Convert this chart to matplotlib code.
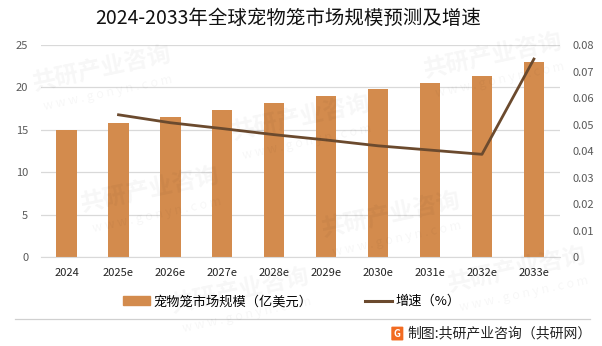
import numpy as np
import matplotlib.pyplot as plt
from matplotlib.patches import Patch, FancyBboxPatch
from matplotlib.lines import Line2D

plt.rcParams['font.family'] = ['Noto Sans CJK SC', 'DejaVu Sans']

# data
years = ["2024", "2025e", "2026e", "2027e", "2028e", "2029e", "2030e", "2031e", "2032e", "2033e"]
market_size = [15.0, 15.8, 16.5, 17.3, 18.15, 19.0, 19.8, 20.5, 21.4, 23.0]
growth_years = years[1:]
growth = [0.0537, 0.0507, 0.0485, 0.0462, 0.0442, 0.0420, 0.0404, 0.0388, 0.0747]

bar_color = "#D38B4D"
line_color = "#6B4A2E"
tick_color = "#595959"

fig = plt.figure(figsize=(6.02, 3.46), dpi=100)
ax = fig.add_axes([0.0675, 0.2564, 0.8625, 0.6136])

x = np.arange(len(years))
ax.bar(x, market_size, width=0.39, color=bar_color, zorder=2)
ax.set_xlim(-0.5, len(years) - 0.5)
ax.set_ylim(0, 25)
ax.set_yticks([0, 5, 10, 15, 20, 25])
ax.set_xticks(x)
ax.set_xticklabels(years)
ax.grid(axis="y", color="#D9D9D9", linewidth=0.9, zorder=0)
for s in ["top", "left", "right"]:
    ax.spines[s].set_visible(False)
ax.spines["bottom"].set_color("#D9D9D9")
ax.tick_params(axis="both", length=0, labelsize=8, colors=tick_color, pad=9)
ax.tick_params(axis="x", labelcolor="#222222", pad=8)

ax2 = ax.twinx()
gx = [years.index(y) for y in growth_years]
ax2.plot(gx, growth, color=line_color, linewidth=2.0, zorder=3)
ax2.set_ylim(0, 0.08)
ax2.set_yticks(np.arange(0, 0.081, 0.01))
ax2.set_yticklabels(["0"] + ["%.2f" % v for v in np.arange(0.01, 0.081, 0.01)])
for s in ax2.spines.values():
    s.set_visible(False)
ax2.tick_params(axis="y", length=0, labelsize=8, colors=tick_color, pad=9)

fig.text(0.478, 0.948, "2024-2033年全球宠物笼市场规模预测及增速", ha="center", va="center",
         fontsize=14, color="#111111")

handles = [Patch(color=bar_color), Line2D([0], [0], color=line_color, linewidth=2.2)]
labels = ["宠物笼市场规模（亿美元）", "增速（%）"]
fig.legend(handles, labels, loc="center", bbox_to_anchor=(0.485, 0.128), ncol=2,
           frameon=False, fontsize=9.5, handlelength=2.0, handleheight=0.6,
           columnspacing=4.0, handletextpad=0.3)

# separator line and source
fig.add_artist(Line2D([0.025, 0.98], [0.077, 0.077], color="#D0D0D0", linewidth=0.9))
fig.add_artist(FancyBboxPatch((0.652, 0.018), 0.016, 0.036, boxstyle="round,pad=0.002",
                              facecolor="#F26B21", edgecolor="none", transform=fig.transFigure))
fig.text(0.660, 0.036, "G", ha="center", va="center", fontsize=7, color="white", weight="bold")
fig.text(0.983, 0.036, "制图:共研产业咨询（共研网）", ha="right", va="center",
         fontsize=10, color="#222222")

# faint watermark
wm = [(0.17, 0.80), (0.50, 0.66), (0.82, 0.84), (0.25, 0.45), (0.65, 0.38),
      (0.86, 0.22), (0.40, 0.16)]
for wx, wy in wm:
    fig.text(wx, wy, "共研产业咨询", fontsize=17, weight="bold", color="#000000", alpha=0.035,
             rotation=12, ha="center", va="center")
    fig.text(wx + 0.01, wy - 0.07, "w w w . g o n y n . c o m", fontsize=9, color="#000000",
             alpha=0.035, rotation=12, ha="center", va="center")

plt.savefig("out.png", dpi=100)
